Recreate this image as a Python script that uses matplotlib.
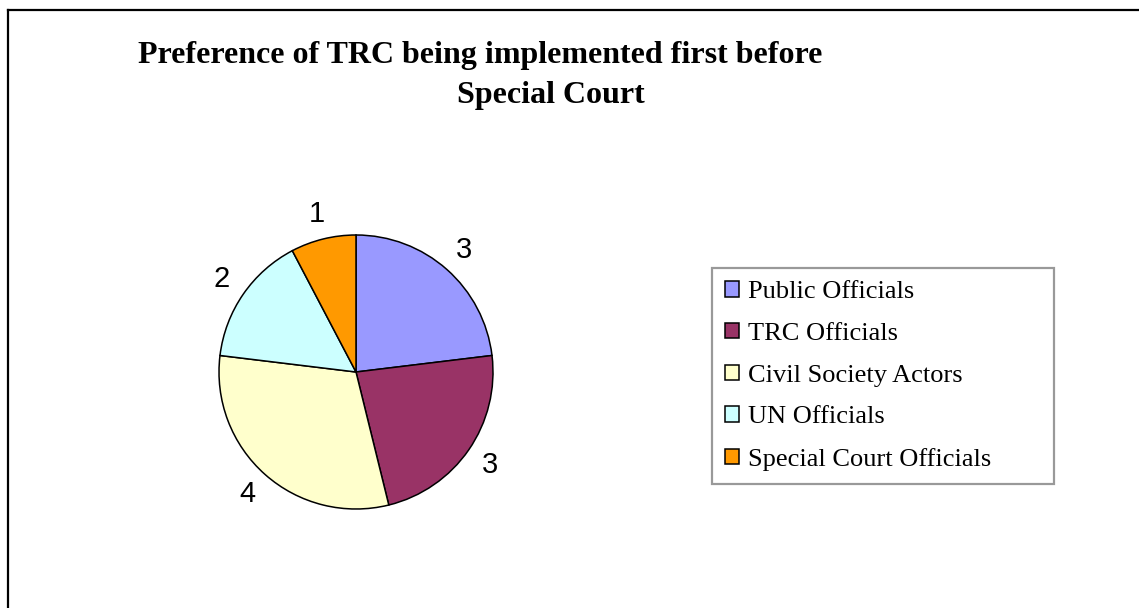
import matplotlib
matplotlib.use("Agg")
import matplotlib.pyplot as plt
from matplotlib.lines import Line2D

categories = ["Public Officials", "TRC Officials", "Civil Society Actors",
              "UN Officials", "Special Court Officials"]
values = [3, 3, 4, 2, 1]
colours = ["#9999FF", "#993366", "#FFFFCC", "#CCFFFF", "#FF9900"]
title_lines = ["Preference of TRC being implemented first before", "Special Court"]

W, H = 1139, 608
fig = plt.figure(figsize=(W / 100, H / 100), dpi=100)
fig.patch.set_facecolor("white")

# outer chart frame (only left and top edges fall inside the picture)
fig.add_artist(Line2D([8 / W, 8 / W], [0, 1 - 10 / H], color="black", lw=1.6))
fig.add_artist(Line2D([8 / W, 1], [1 - 10 / H, 1 - 10 / H], color="black", lw=1.6))

# pie axes: centre (356, 372) px, radius 137 px
cx, cy, r = 356, 372, 137
ax = fig.add_axes([(cx - r) / W, 1 - (cy + r) / H, 2 * r / W, 2 * r / H])
wedges, texts = ax.pie(values, colors=colours, startangle=90, counterclock=False,
                       labels=[str(v) for v in values], labeldistance=1.19,
                       wedgeprops=dict(edgecolor="black", linewidth=1.1))
for t in texts:
    t.set_ha("center")
    t.set_va("center")
    t.set_fontsize(21)
    t.set_family("Liberation Sans")
ax.set_xlim(-1, 1)
ax.set_ylim(-1, 1)
ax.set_aspect("equal")
ax.axis("off")

fig.text(480 / W, 1 - 55 / H, title_lines[0], ha="center", va="center",
         fontsize=23, fontweight="bold", family="Liberation Serif")
fig.text(551 / W, 1 - 96 / H, title_lines[1], ha="center", va="center",
         fontsize=23, fontweight="bold", family="Liberation Serif")

leg = fig.legend(wedges, categories, loc="upper left",
                 bbox_to_anchor=(712 / W, 1 - 478 / H, (1054 - 712) / W, 210 / H),
                 mode="expand", borderaxespad=0, frameon=True, fancybox=False,
                 prop={"family": "Liberation Serif", "size": 19},
                 handlelength=0.53, handleheight=0.53, handletextpad=0.34,
                 borderpad=0.5, labelspacing=0.74)
leg.get_frame().set_edgecolor("#808080")
leg.get_frame().set_linewidth(1.6)

fig.savefig("out.png", dpi=100)
